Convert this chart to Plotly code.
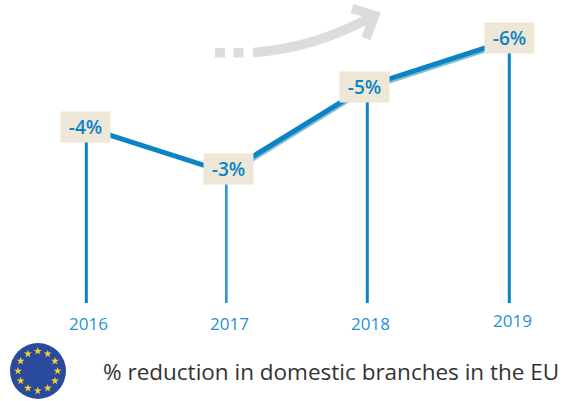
import math
import plotly.graph_objects as go

years = ["2016", "2017", "2018", "2019"]
year_pos = [2016, 2016.996, 2017.993, 2019]
heights = [3.97, 2.95, 4.91, 5.95]
labels = ["-4%", "-3%", "-5%", "-6%"]
stem_widths = [3, 1.8, 3, 3]
stem_colors = ["#0a84c6", "#2f97d2", "#0a84c6", "#0a84c6"]
label_dx = [-0.5, 1.5, -2.5, 0.5]
label_dy = [0.5, 3.5, -1, 2]
tick_dx = [2.5, 3, 3.5, 3]
tick_y = [323, 323, 323, 320]
caption = "% reduction in domestic branches in the EU"

W, H = 563, 401
PX_X, PX_Y = 141.0, 44.2
BLUE, BEIGE, GREY, TICK = "#0a84c6", "#eee6d6", "#dcdcdc", "#2392d3"
FONT = "Open Sans"

fig = go.Figure()
fig.add_trace(go.Bar(x=year_pos, y=heights, width=[w / PX_X for w in stem_widths],
                     marker=dict(color=stem_colors, line_width=0), showlegend=False))
fig.add_trace(go.Scatter(x=year_pos[1:], y=[v - 0.05 for v in heights[1:]], mode="lines",
                         line=dict(color="#84bdcc", width=5), showlegend=False))
fig.add_trace(go.Scatter(x=year_pos, y=heights, mode="lines",
                         line=dict(color=BLUE, width=5), showlegend=False))

# EU flag stars, on the pixel overlay axes
cx, cy, r = 37.8, 371, 19.8
fig.add_trace(go.Scatter(
    x=[cx + r * math.sin(i * math.pi / 6) for i in range(12)],
    y=[cy - r * math.cos(i * math.pi / 6) for i in range(12)],
    xaxis="x2", yaxis="y2", mode="markers", showlegend=False,
    marker=dict(symbol="star", size=6, color="#f6d32d", line_width=0)))

annotations = []
for i, lab in enumerate(labels):
    annotations.append(dict(x=year_pos[i], y=heights[i], text=lab, showarrow=False,
                            xshift=label_dx[i], yshift=label_dy[i], width=49, height=30,
                            bgcolor=BEIGE, borderpad=0, valign="middle", align="center",
                            font=dict(family=FONT, size=19, color=BLUE, weight=600)))
    annotations.append(dict(x=year_pos[i], xref="x", y=tick_y[i], yref="y2", text=years[i],
                            xshift=tick_dx[i], showarrow=False,
                            font=dict(family=FONT, size=17, color=TICK)))
annotations.append(dict(x=101, xref="x2", y=371, yref="y2", text=caption, xanchor="left",
                        showarrow=False, font=dict(family=FONT, size=22.5, color="#333333")))

def pshape(path, **kw):
    return dict(type="path", path=path, xref="x2", yref="y2", layer="below", **kw)

shapes = [
    dict(type="circle", xref="x2", yref="y2", x0=10, x1=66, y0=343, y1=399,
         fillcolor="#2a4a9e", line=dict(color="#2a4a9e", width=0), layer="below"),
    pshape("M 52 346 A 28 28 0 0 1 52 396 A 40 40 0 0 0 52 346 Z", fillcolor="#23407f",
           line_width=0),
    dict(type="rect", xref="x2", yref="y2", x0=215, x1=225, y0=48, y1=57.5, fillcolor=GREY,
         line_width=0, layer="below"),
    dict(type="rect", xref="x2", yref="y2", x0=233.5, x1=243.5, y0=48, y1=57.5, fillcolor=GREY,
         line_width=0, layer="below"),
    pshape("M 253 52.5 Q 315 48 371 17", line=dict(color=GREY, width=9.5)),
    pshape("M 352 8.5 L 374.5 15.5 L 366 38.5", line=dict(color=GREY, width=9.5)),
]

fig.update_layout(
    width=W, height=H, margin=dict(l=0, r=0, t=0, b=0), autosize=False,
    paper_bgcolor="white", plot_bgcolor="white", barmode="overlay",
    xaxis=dict(range=[2016 - 86.3 / PX_X, 2016 + (W - 86.3) / PX_X], visible=False, fixedrange=True),
    yaxis=dict(range=[-(H - 303) / PX_Y, 303 / PX_Y], visible=False, fixedrange=True),
    xaxis2=dict(range=[0, W], overlaying="x", visible=False, fixedrange=True),
    yaxis2=dict(range=[H, 0], overlaying="y", visible=False, fixedrange=True),
    annotations=annotations, shapes=shapes,
)
fig.write_html("out.html", config={"displayModeBar": False},
               post_script="document.body.style.margin='0';document.documentElement.style.overflow='hidden';")
